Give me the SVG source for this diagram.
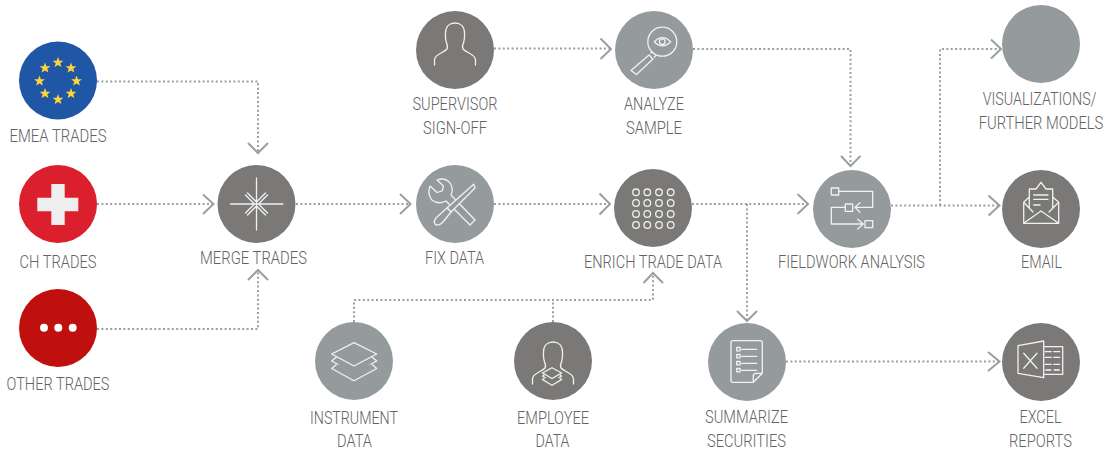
<svg xmlns="http://www.w3.org/2000/svg" width="1107" height="454" viewBox="0 0 1107 454">
<style>
text{font-family:"Roboto","Liberation Sans",sans-serif;font-weight:300;font-size:18px;fill:#636363;text-anchor:middle}
.dk{fill:#7a7977}
.lt{fill:#959b9c}
.ic{fill:none;stroke:#f1f1f1;stroke-width:1.3;stroke-linejoin:round;stroke-linecap:round}
.icl{fill:#959b9c;stroke:#f1f1f1;stroke-width:1.3;stroke-linejoin:round}
.dot{fill:none;stroke:#9a9fa0;stroke-width:2;stroke-dasharray:2 2.4}
.chev{fill:none;stroke:#9a9fa0;stroke-width:2}
.star{fill:#fcd53a}
</style>
<defs>
<polygon id="s" points="0,-5.6 1.4,-1.8 5.4,-1.7 2.3,0.7 3.4,4.6 0,2.4 -3.4,4.6 -2.300,0.7 -5.4,-1.7 -1.4,-1.8"/>
<path id="person" d="M434.500 65V60C434.500 54 444 53 447 49C448 47 447.500 45 446.500 43C445 39 445.500 36 445.500 33C445.500 26 450 23 455 23C460 23 464.500 26 464.500 33C464.500 36 465 39 463.500 43C462.500 45 462 47 463 49C466 53 475.500 54 475.500 60V65"/>
<g id="layers">
<path d="M336.500 357L331.700 361L354 373.300L376.700 361L372 357"/>
<path d="M336.500 364.500L331.700 368.500L354 380.700L376.700 368.500L372 364.500"/>
<path d="M354 342.700L376.700 354L354 366L331.700 354Z"/>
</g>
</defs>
<g id="connectors">
<path class="dot" d="M97 81.500H258V152"/>
<path class="chev" d="M248 143L258 153L268 143"/>
<path class="dot" d="M97 204H212"/>
<path class="chev" d="M203 194.500L213.500 204L203 214"/>
<path class="dot" d="M97 329H258V271"/>
<path class="chev" d="M248 280L258 270L268 280"/>
<path class="dot" d="M296 204H409"/>
<path class="chev" d="M400 194L410.500 204L400 214"/>
<path class="dot" d="M494 204H609"/>
<path class="chev" d="M599.500 193.500L610 204L599.500 214.500"/>
<path class="dot" d="M494 48.500H610"/>
<path class="chev" d="M600.500 38.500L611 49L600.500 59"/>
<path class="dot" d="M693 49H850.500V165"/>
<path class="chev" d="M841 156L850.500 166L860.500 156"/>
<path class="dot" d="M692 204H807"/>
<path class="chev" d="M797.500 194L808 204L797.500 214"/>
<path class="dot" d="M747 204V320"/>
<path class="chev" d="M737 311L747 321L757 311"/>
<path class="dot" d="M891 205.500H999"/>
<path class="chev" d="M988.500 195.500L999.500 205.500L988.500 215.500"/>
<path class="dot" d="M940 205.500V49H1000"/>
<path class="chev" d="M991 39.500L1001 49L991 58.500"/>
<path class="dot" d="M786 361.500H999"/>
<path class="chev" d="M988 352L999.500 361.500L988 371"/>
<path class="dot" d="M354 322V300H653V274"/>
<path class="dot" d="M553 322V300"/>
<path class="chev" d="M643.500 283L653 273L663 283"/>
</g>
<g id="emea">
<circle cx="58" cy="80.500" r="39" fill="#2056a6"/>
<use href="#s" class="star" x="58" y="62.500"/><use href="#s" class="star" x="71" y="68"/><use href="#s" class="star" x="76.500" y="81"/><use href="#s" class="star" x="71" y="93.500"/><use href="#s" class="star" x="58" y="99.500"/><use href="#s" class="star" x="45" y="93.500"/><use href="#s" class="star" x="39.500" y="81"/><use href="#s" class="star" x="45" y="68"/>
<text x="58" y="142" textLength="97" lengthAdjust="spacingAndGlyphs">EMEA TRADES</text>
</g>
<g id="ch">
<circle cx="58" cy="204" r="39" fill="#dc1f2c"/>
<path d="M51.300 184H64.700V197.700H78.300V211.300H64.700V225H51.300V211.300H37.300V197.700H51.300Z" fill="#eeeeee"/>
<text x="58" y="267.500" textLength="77" lengthAdjust="spacingAndGlyphs">CH TRADES</text>
</g>
<g id="other">
<circle cx="58" cy="328" r="39" fill="#bf0f0f"/>
<circle cx="44" cy="327.700" r="4" fill="#fff"/><circle cx="58.300" cy="327.700" r="4" fill="#fff"/><circle cx="72.700" cy="327.700" r="4" fill="#fff"/>
<text x="58" y="390" textLength="103" lengthAdjust="spacingAndGlyphs">OTHER TRADES</text>
</g>
<g id="merge">
<circle class="dk" cx="256.500" cy="204" r="39"/>
<path class="ic" d="M230.500 204H283M256.500 178V230M245.500 195L254.500 204L245.500 213M267.500 195L258.500 204L267.500 213M247.500 193L256.500 202L265.500 193M247.500 215L256.500 206L265.500 215"/>
<text x="253.500" y="263.500" textLength="107" lengthAdjust="spacingAndGlyphs">MERGE TRADES</text>
</g>
<g id="supervisor">
<circle class="dk" cx="455" cy="50" r="39"/>
<use href="#person" class="ic"/>
<text x="455" y="110" textLength="85" lengthAdjust="spacingAndGlyphs">SUPERVISOR</text>
<text x="455" y="134" textLength="64" lengthAdjust="spacingAndGlyphs">SIGN-OFF</text>
</g>
<g id="analyze">
<circle class="lt" cx="654" cy="50" r="39"/>
<circle class="ic" cx="662.300" cy="41.700" r="14.500"/>
<path class="ic" d="M654.300 41.700Q662.300 33.500 670.700 41.700Q662.300 50 654.300 41.700Z"/>
<circle class="ic" cx="662.300" cy="41.700" r="2.800"/>
<path class="ic" d="M649 55L631 70.500L636.500 74.500L653 59ZM651 53L652.200 51.800M654.500 57L655.700 55.500"/>
<text x="654" y="110" textLength="60" lengthAdjust="spacingAndGlyphs">ANALYZE</text>
<text x="654" y="134" textLength="56" lengthAdjust="spacingAndGlyphs">SAMPLE</text>
</g>
<g id="fix">
<circle class="lt" cx="455" cy="204" r="39"/>
<path class="icl" d="M470 225L446 201Q438 205 432 200Q427 194 430 186L437 192.500L442 191L443.500 186L437 180Q445 177 450 183Q454 189 451 195L475 220Z"/>
<path class="icl" d="M473.700 184.300L475 188L451 212L447 208Z"/>
<path class="icl" d="M451 212L443 222Q438 227 435 224Q433 221 437 217L447 208Z"/>
<text x="454.500" y="263.500" textLength="59" lengthAdjust="spacingAndGlyphs">FIX DATA</text>
</g>
<g id="enrich">
<circle class="dk" cx="653" cy="208" r="39"/>
<g class="ic">
<circle cx="636" cy="192.300" r="3.300"/><circle cx="647.300" cy="192.300" r="3.300"/><circle cx="659" cy="192.300" r="3.300"/><circle cx="670.700" cy="192.300" r="3.300"/>
<circle cx="636" cy="203" r="3.300"/><circle cx="647.300" cy="203" r="3.300"/><circle cx="659" cy="203" r="3.300"/><circle cx="670.700" cy="203" r="3.300"/>
<circle cx="636" cy="214" r="3.300"/><circle cx="647.300" cy="214" r="3.300"/><circle cx="659" cy="214" r="3.300"/><circle cx="670.700" cy="214" r="3.300"/>
<circle cx="636" cy="225" r="3.300"/><circle cx="647.300" cy="225" r="3.300"/><circle cx="659" cy="225" r="3.300"/><circle cx="670.700" cy="225" r="3.300"/>
</g>
<text x="653" y="267.500" textLength="138" lengthAdjust="spacingAndGlyphs">ENRICH TRADE DATA</text>
</g>
<g id="fieldwork">
<circle class="lt" cx="852" cy="209" r="39"/>
<path class="ic" d="M838.700 191.300H872.700V207.300H855M860 202.700L855 207.300L860 212.300M845.300 207.300H831.300V224H863.300M857.700 219.300L863.300 224L857.700 229"/>
<rect class="ic" x="831.300" y="188" width="7.400" height="7"/>
<rect class="ic" x="845.300" y="204" width="7.400" height="7.300"/>
<rect class="ic" x="865" y="220.700" width="7.700" height="7"/>
<text x="851.500" y="267.500" textLength="147" lengthAdjust="spacingAndGlyphs">FIELDWORK ANALYSIS</text>
</g>
<g id="visualizations">
<circle class="lt" cx="1041" cy="44" r="39"/>
<text transform="translate(1039.500 105) scale(.795 1)">VISUALIZATIONS/</text>
<text transform="translate(1041 129) scale(.82 1)">FURTHER MODELS</text>
</g>
<g id="email">
<circle class="dk" cx="1041" cy="209" r="39"/>
<path class="ic" d="M1029.300 197L1023.700 202.300V223.300H1058.700V202.300L1052.700 197M1029.300 208V189H1036L1041 182.300L1046 189H1052.700V208M1023.700 223.300L1041 211L1058.700 223.300M1023.700 202.300L1033 212M1058.700 202.300L1049 212M1033.700 195H1048M1033.700 199.300H1048M1033.700 205H1040"/>
<text x="1041.500" y="267.500" textLength="41" lengthAdjust="spacingAndGlyphs">EMAIL</text>
</g>
<g id="instrument">
<circle class="lt" cx="354" cy="361" r="39"/>
<use href="#layers" class="icl"/>
<text x="354" y="423.500" textLength="88" lengthAdjust="spacingAndGlyphs">INSTRUMENT</text>
<text x="354.500" y="447" textLength="35" lengthAdjust="spacingAndGlyphs">DATA</text>
</g>
<g id="employee">
<circle class="dk" cx="553" cy="361" r="39"/>
<use href="#person" class="ic" transform="translate(98 319)"/>
<g transform="translate(552 376.500) scale(.42 .46) translate(-354 -361.700)"><use href="#layers" fill="#7a7977" stroke="#f1f1f1" stroke-width="2.800"/></g>
<text x="553" y="423.500" textLength="72" lengthAdjust="spacingAndGlyphs">EMPLOYEE</text>
<text x="552.500" y="447" textLength="34" lengthAdjust="spacingAndGlyphs">DATA</text>
</g>
<g id="summarize">
<circle class="lt" cx="747" cy="362" r="39"/>
<path class="ic" d="M733 340.700H760.300Q762.300 340.700 762.300 342.700V373.300L753.300 382.300H733Q731 382.300 731 380.300V342.700Q731 340.700 733 340.700ZM762.300 373.300H756Q753.300 373.300 753.300 376V382.300M741.700 349.300H756.700M741.700 356.300H756.700M741.700 363.300H756.700M741.700 370.300H756.700"/>
<rect class="ic" x="736.700" y="347.500" width="3.400" height="3.400"/><rect class="ic" x="736.700" y="354.500" width="3.400" height="3.400"/><rect class="ic" x="736.700" y="361.500" width="3.400" height="3.400"/><rect class="ic" x="736.700" y="368.500" width="3.400" height="3.400"/>
<text x="746.500" y="423" textLength="83" lengthAdjust="spacingAndGlyphs">SUMMARIZE</text>
<text x="746.500" y="447" textLength="79" lengthAdjust="spacingAndGlyphs">SECURITIES</text>
</g>
<g id="excel">
<circle class="dk" cx="1041" cy="362" r="39"/>
<path class="ic" d="M1018 345.700L1043.700 341V377.700L1018 373.300ZM1043.700 346.700H1062.700V374.300H1043.700M1023.700 353.300L1037 368.300M1037 353.300L1023.700 368.300M1045.300 351.700H1051.300M1053.700 351.700H1059.700M1045.300 357.300H1051.300M1053.700 357.300H1059.700M1045.300 364.300H1051.300M1053.700 364.300H1059.700"/>
<path d="M1045.300 370H1051.300M1053.700 370H1059.700" fill="none" stroke="#d9d9d9" stroke-width="1.800"/>
<text x="1040.500" y="423" textLength="42" lengthAdjust="spacingAndGlyphs">EXCEL</text>
<text x="1040.500" y="447" textLength="63" lengthAdjust="spacingAndGlyphs">REPORTS</text>
</g>
</svg>
